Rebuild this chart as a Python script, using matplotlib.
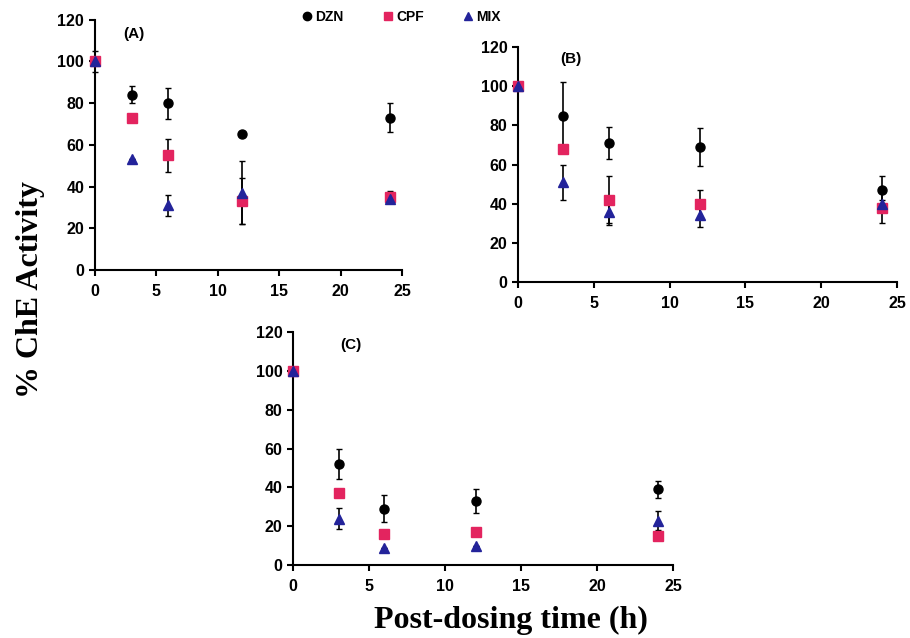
import matplotlib.pyplot as plt
from matplotlib.lines import Line2D

plt.rcParams['font.family'] = ['Liberation Sans', 'DejaVu Sans']
plt.rcParams['font.weight'] = 'bold'

hours = [0, 3, 6, 12, 24]

# panel A
a_dzn = [100, 84, 80, 65, 73]
a_dzn_err = [0, 4, 7.5, 1, 7]
a_cpf = [100, 73, 55, 33, 35]
a_cpf_err = [0, 2, 8, 11, 3]
a_mix = [100, 53, 31, 37, 34]
a_mix_err = [5, 0, 5, 15, 2]

# panel B
b_dzn = [100, 85, 71, 69, 47]
b_dzn_err = [0, 17, 8, 9.5, 7]
b_cpf = [100, 68, 42, 40, 38]
b_cpf_err = [0, 0, 12, 7, 8]
b_mix = [100, 51, 36, 34, 40]
b_mix_err = [0, 9, 7, 6, 2]

# panel C
c_dzn = [100, 52, 29, 33, 39]
c_dzn_err = [0, 7.5, 7, 6, 4.5]
c_cpf = [100, 37, 16, 17, 15]
c_cpf_err = [0, 0, 0, 0, 0]
c_mix = [100, 24, 9, 10, 23]
c_mix_err = [0, 5.5, 0, 0, 5]

colors = {'DZN': 'black', 'CPF': '#e3245f', 'MIX': '#23239a'}
markers = {'DZN': 'o', 'CPF': 's', 'MIX': '^'}

fig = plt.figure(figsize=(9.1, 6.38), dpi=100)
axA = fig.add_axes([0.104, 0.577, 0.338, 0.392])
axB = fig.add_axes([0.569, 0.558, 0.417, 0.368])
axC = fig.add_axes([0.322, 0.114, 0.418, 0.366])

panels = [
    (axA, '(A)', [(a_dzn, a_dzn_err, 'DZN'), (a_cpf, a_cpf_err, 'CPF'), (a_mix, a_mix_err, 'MIX')], (2.3, 113)),
    (axB, '(B)', [(b_dzn, b_dzn_err, 'DZN'), (b_cpf, b_cpf_err, 'CPF'), (b_mix, b_mix_err, 'MIX')], (2.8, 114)),
    (axC, '(C)', [(c_dzn, c_dzn_err, 'DZN'), (c_cpf, c_cpf_err, 'CPF'), (c_mix, c_mix_err, 'MIX')], (3.1, 113)),
]

for ax, tag, series, pos in panels:
    for vals, err, name in series:
        ax.errorbar(hours, vals, yerr=err, fmt=markers[name], color=colors[name],
                    ecolor='black', elinewidth=1.2, capsize=2, capthick=1,
                    markersize=6.5, clip_on=False, zorder=3)
    ax.set_xlim(0, 25)
    ax.set_ylim(0, 120)
    ax.set_xticks(range(0, 26, 5))
    ax.set_yticks(range(0, 121, 20))
    ax.spines['top'].set_visible(False)
    ax.spines['right'].set_visible(False)
    ax.spines['left'].set_linewidth(1.5)
    ax.spines['bottom'].set_linewidth(1.5)
    ax.tick_params(width=1.5, length=4, labelsize=11.5)
    ax.tick_params(axis='x', pad=6)
    ax.text(pos[0], pos[1], tag, fontsize=11, fontweight='bold', ha='left', va='center')

handles = [Line2D([], [], marker=markers[k], color=colors[k], linestyle='none', markersize=6, label=k)
           for k in ['DZN', 'CPF', 'MIX']]
fig.legend(handles=handles, ncol=3, loc='center', bbox_to_anchor=(0.44, 0.974), frameon=False,
           handletextpad=0.1, columnspacing=2.7, handlelength=1.0, prop={'size': 10, 'weight': 'bold'})

fig.text(0.034, 0.547, '% ChE Activity', rotation=90, ha='center', va='center',
         fontsize=23, fontweight='bold', family=['Liberation Serif', 'DejaVu Serif'])
fig.text(0.561, 0.028, 'Post-dosing time (h)', ha='center', va='center',
         fontsize=23, fontweight='bold', family=['Liberation Serif', 'DejaVu Serif'])

fig.savefig('out.png', dpi=100)
